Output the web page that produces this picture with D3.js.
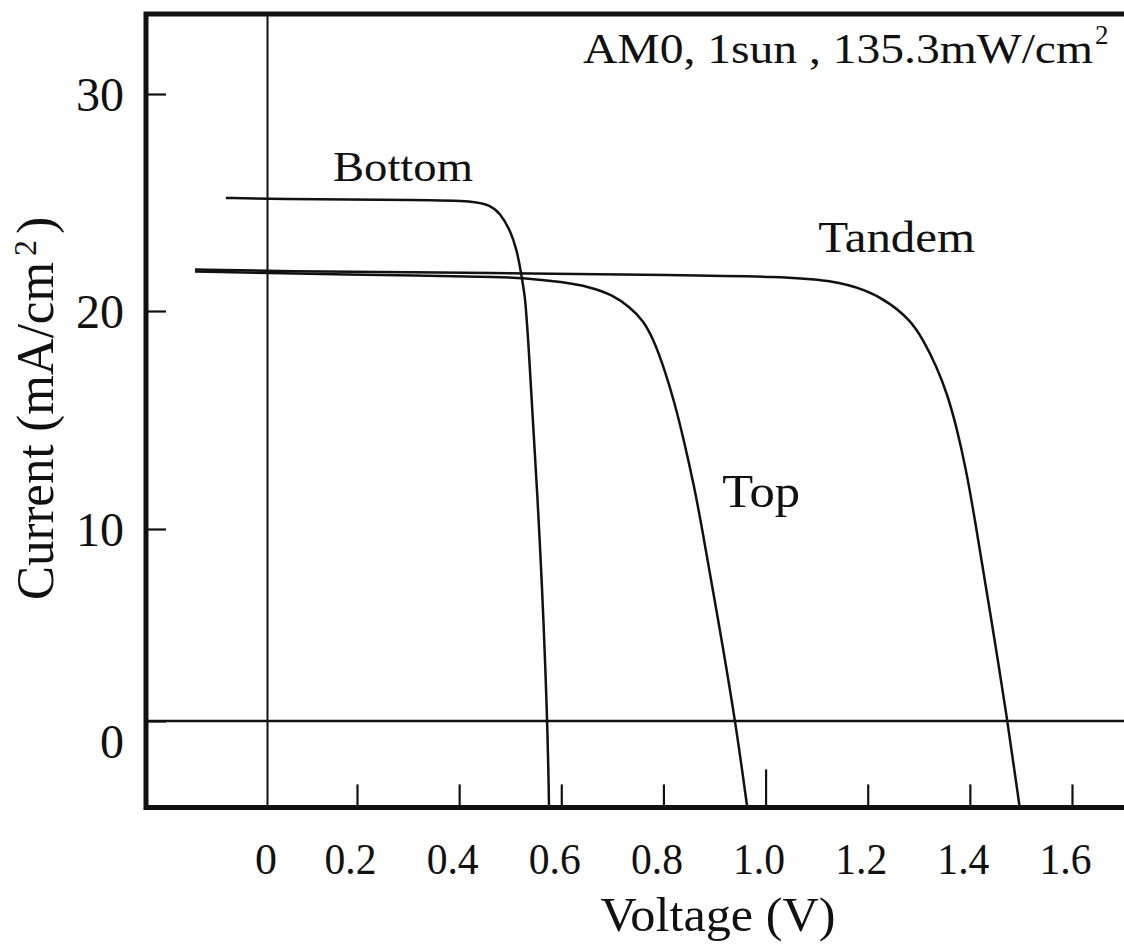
<!DOCTYPE html>
<html>
<head>
<meta charset="utf-8">
<script src="https://cdn.jsdelivr.net/npm/d3@7"></script>
<style>
  html, body { margin: 0; padding: 0; background: #fff; }
  svg { display: block; }
  text { font-family: "Liberation Serif", "Times New Roman", serif; fill: #111; }
</style>
</head>
<body>
<div id="chart"></div>
<script>
// J-V curves of the tandem cell and its two sub-cells under AM0, 1 sun

// Bottom cell
const bottomV = [-0.093, 0, 0.343, 0.427, 0.460, 0.480, 0.500, 0.513, 0.521, 0.529, 0.533, 0.560, 0.573, 0.576];
const bottomI = [25.21, 25.16, 25.12, 25.07, 24.88, 24.52, 23.73, 22.81, 21.80, 20.65, 19.59, 8.91, 0, -4.48];

// Top cell
const topV = [-0.162, 0, 0.343, 0.480, 0.525, 0.603, 0.656, 0.701, 0.734, 0.760, 0.782, 0.801, 0.821, 0.840, 0.860, 0.872, 0.907, 0.941, 0.964];
const topI = [21.82, 21.74, 21.63, 21.57, 21.52, 21.34, 21.11, 20.74, 20.18, 19.59, 18.62, 17.39, 15.87, 14.08, 11.97, 10.50, 5.31, 0, -4.48];

// Tandem cell
const tandemV = [-0.162, 0, 0.480, 0.832, 1.028, 1.126, 1.198, 1.243, 1.283, 1.309, 1.335, 1.355, 1.374, 1.394, 1.410, 1.439, 1.474, 1.497];
const tandemI = [21.91, 21.84, 21.75, 21.66, 21.58, 21.43, 20.97, 20.37, 19.59, 18.67, 17.44, 16.24, 14.69, 12.57, 10.41, 5.78, 0, -4.40];

const xTicks = [0, 0.2, 0.4, 0.6, 0.8, 1.0, 1.2, 1.4, 1.6];
const xTickLabels = ['0', '0.2', '0.4', '0.6', '0.8', '1.0', '1.2', '1.4', '1.6'];
const yTicks = [0, 10, 20, 30];
const yTickLabels = ['0', '10', '20', '30'];

const width = 1124;
const height = 951;

const svg = d3.select('#chart').append('svg')
  .attr('width', width)
  .attr('height', height);

// the original drawing is not evenly spaced, so both scales are piecewise
const x = d3.scaleLinear().domain([0, 0.2, 1.6]).range([267.5, 357, 1072]);
const y = d3.scaleLinear().domain([0, 10, 20, 30]).range([721, 529, 311, 94]);

const frameLeft = 146;
const frameTop = 14;
const frameBottom = y(-4.5);
const frameRight = width + 10;

// Zero lines
svg.append('line')
  .attr('x1', frameLeft).attr('x2', frameRight)
  .attr('y1', y(0)).attr('y2', y(0))
  .attr('stroke', '#111').attr('stroke-width', 2.4);

svg.append('line')
  .attr('x1', x(0)).attr('x2', x(0))
  .attr('y1', frameTop).attr('y2', frameBottom)
  .attr('stroke', '#111').attr('stroke-width', 2);

// Curves (basis spline smooths the read-off points)
const line = d3.line()
  .x(d => x(d[0]))
  .y(d => y(d[1]))
  .curve(d3.curveBasis);

const series = [
  { name: 'Bottom', v: bottomV, i: bottomI },
  { name: 'Top', v: topV, i: topI },
  { name: 'Tandem', v: tandemV, i: tandemI },
];

svg.append('g')
  .selectAll('path')
  .data(series)
  .join('path')
  .attr('fill', 'none')
  .attr('stroke', '#111')
  .attr('stroke-width', 2.5)
  .attr('stroke-linejoin', 'round')
  .attr('d', d => line(d.v.map((v, k) => [v, d.i[k]])));

// Bottom axis, ticks pointing up into the plot
const xAxis = svg.append('g')
  .attr('transform', `translate(0,${frameBottom})`)
  .call(d3.axisBottom(x)
    .tickValues(xTicks)
    .tickFormat((d, k) => xTickLabels[k])
    .tickSize(-23));

xAxis.select('.domain').remove();
xAxis.selectAll('.tick line')
  .attr('stroke', '#111')
  .attr('stroke-width', 2.2)
  .attr('y2', d => d === 1.0 ? -38 : -23)
  .filter(d => d === 0).remove();
xAxis.selectAll('.tick text')
  .attr('y', 67)
  .attr('dy', null)
  .attr('dx', d => d === 0 ? -2 : -7)
  .attr('font-size', 44)
  .attr('font-family', null)
  .attr('textLength', d => d === 0 ? null : 52)
  .attr('lengthAdjust', 'spacingAndGlyphs');

// Left axis, ticks pointing right into the plot
const yAxis = svg.append('g')
  .attr('transform', `translate(${frameLeft},0)`)
  .call(d3.axisLeft(y)
    .tickValues(yTicks)
    .tickFormat((d, k) => yTickLabels[k])
    .tickSize(-20)
    .tickPadding(22));

yAxis.select('.domain').remove();
yAxis.selectAll('.tick line')
  .attr('stroke', '#111')
  .attr('stroke-width', 2.2);
yAxis.selectAll('.tick text')
  .attr('font-size', 48)
  .attr('font-family', null)
  .attr('dy', d => d === 0 ? '0.75em' : '0.34em');

// Frame (right side runs off the page)
svg.append('path')
  .attr('d', `M${frameRight},${frameTop}H${frameLeft}V${frameBottom}H${frameRight}`)
  .attr('fill', 'none')
  .attr('stroke', '#111')
  .attr('stroke-width', 5);

// Labels
svg.append('text')
  .attr('x', x(0.29)).attr('y', y(26.0))
  .attr('text-anchor', 'middle')
  .attr('font-size', 42)
  .attr('textLength', 140)
  .attr('lengthAdjust', 'spacingAndGlyphs')
  .text('Bottom');

svg.append('text')
  .attr('x', x(1.103)).attr('y', y(22.7))
  .attr('font-size', 45)
  .attr('textLength', 157)
  .attr('lengthAdjust', 'spacingAndGlyphs')
  .text('Tandem');

svg.append('text')
  .attr('x', x(0.915)).attr('y', y(11.0))
  .attr('font-size', 46)
  .attr('textLength', 78)
  .attr('lengthAdjust', 'spacingAndGlyphs')
  .text('Top');

svg.append('text')
  .attr('x', 583).attr('y', 63)
  .attr('font-size', 43)
  .attr('textLength', 510)
  .attr('lengthAdjust', 'spacingAndGlyphs')
  .text('AM0, 1sun , 135.3mW/cm');

svg.append('text')
  .attr('x', 1095).attr('y', 44)
  .attr('font-size', 27)
  .text('2');

// Axis titles
svg.append('text')
  .attr('x', 718).attr('y', 931)
  .attr('text-anchor', 'middle')
  .attr('font-size', 48)
  .attr('textLength', 235)
  .attr('lengthAdjust', 'spacingAndGlyphs')
  .text('Voltage (V)');

const titleX = 53;
svg.append('text')
  .attr('transform', `translate(${titleX},600) rotate(-90)`)
  .attr('font-size', 52)
  .attr('textLength', 338)
  .attr('lengthAdjust', 'spacingAndGlyphs')
  .text('Current (mA/cm');
svg.append('text')
  .attr('transform', `translate(${titleX - 17},256) rotate(-90)`)
  .attr('font-size', 32)
  .text('2');
svg.append('text')
  .attr('transform', `translate(${titleX},234) rotate(-90)`)
  .attr('font-size', 52)
  .text(')');
</script>
</body>
</html>
